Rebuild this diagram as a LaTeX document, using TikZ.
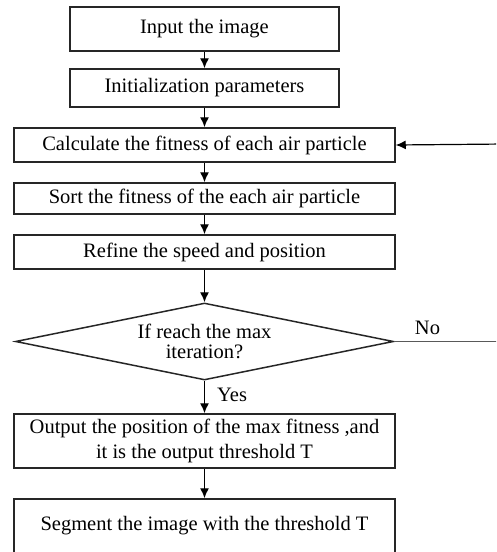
\documentclass[tikz,border=0pt]{standalone}
\usepackage{fontspec}
\setmainfont{Liberation Serif}
\usetikzlibrary{positioning,shapes.geometric,arrows.meta}

\begin{document}
\begin{tikzpicture}[x=1pt, y=-1pt,
    narrowblock/.style={rectangle, draw=black!85, line width=1.5pt, minimum width=269pt, text centered, inner sep=2pt, font=\fontsize{20.5}{25}\selectfont},
    wideblock/.style={rectangle, draw=black!85, line width=1.5pt, minimum width=381pt, minimum height=34pt, align=center, inner sep=2pt, font=\fontsize{20.5}{25}\selectfont},
    decision/.style={diamond, draw=black!85, line width=1.5pt, minimum width=378pt, minimum height=77pt, inner sep=0pt},
    plaintext/.style={inner sep=0pt, align=center, font=\fontsize{20.5}{20}\selectfont},
    line/.style={draw, line width=1.4pt, -{Latex[length=10pt,width=9pt]}},
    loopline/.style={draw=black!65, line width=1.2pt}]

    \useasboundingbox (0,0) rectangle (496,552);
    \clip (0,0) rectangle (496,552);

    \node [narrowblock, minimum height=44pt] (input) at (204.5,29) {Input the image};
    \node [narrowblock, minimum height=38pt, below of=input, node distance=59pt] (init) {Initialization parameters};
    \node [wideblock, below of=init, node distance=57pt] (fit) {Calculate the fitness of each air particle};
    \node [wideblock, minimum height=31pt, below of=fit, node distance=53.5pt] (sort) {Sort the fitness of the each air particle};
    \node [wideblock, below of=sort, node distance=53.5pt] (refine) {Refine the speed and position};
    \node [decision, below of=refine, node distance=89.5pt] (iter) {};
    \node [plaintext] (itertext) at (iter) {If reach the max\\iteration?};
    \node [wideblock, minimum height=54pt, below of=iter, node distance=99.5pt] (best) {Output the position of the max fitness ,and\\it is the output threshold T};
    \node [wideblock, minimum height=54pt, below of=best, node distance=85pt] (seg) {Segment the image with the threshold T};

    % loop back on the right edge
    \coordinate (noend) at (505,341.5);
    \coordinate (backin) at (505,144);

    \path [line] (input) -- (init);
    \path [line] (init) -- (fit);
    \path [line] (fit) -- (sort);
    \path [line] (sort) -- (refine);
    \path [line] (refine) -- (iter.north);
    \path [line] (iter.south) -- node[plaintext, right, xshift=12pt, yshift=2pt] (yes) {Yes} (best);
    \path [line] (best) -- (seg);
    \path [loopline] (iter.east) -- node[plaintext, above, pos=0.3, yshift=6pt] (no) {No} (noend) -- (backin);
    \path [line, draw=black, line width=1.2pt] (backin) -- (fit.east);
\end{tikzpicture}
\end{document}
